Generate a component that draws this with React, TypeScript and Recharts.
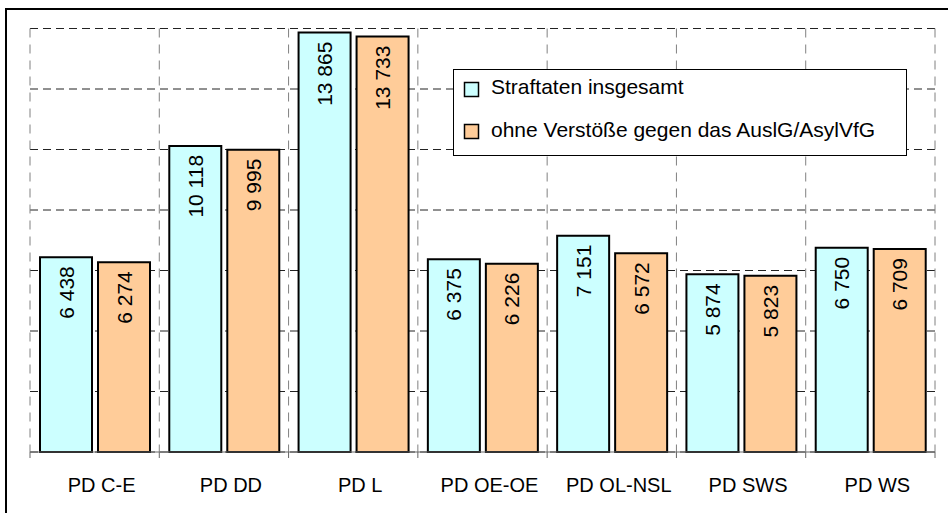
import React from 'react';
import { BarChart, Bar, XAxis, YAxis, CartesianGrid, Legend, LabelList } from 'recharts';

const categories = ['PD C-E', 'PD DD', 'PD L', 'PD OE-OE', 'PD OL-NSL', 'PD SWS', 'PD WS'];
const totalValues = [6438, 10118, 13865, 6375, 7151, 5874, 6750];
const withoutValues = [6274, 9995, 13733, 6226, 6572, 5823, 6709];
const seriesNames = ['Straftaten insgesamt', 'ohne Verstöße gegen das AuslG/AsylVfG'];
const yTicks = [0, 2000, 4000, 6000, 8000, 10000, 12000, 14000];
const Y_MAX = 14000;

const data = categories.map((name, i) => ({
  name,
  total: totalValues[i],
  without: withoutValues[i],
}));

const FONT = '"Liberation Sans", Arial, sans-serif';
const CHART_W = 940;
const CHART_H = 505;
const MARGIN = { top: 20.5, right: 13, left: 22, bottom: 21 };
const PLOT_W = CHART_W - MARGIN.left - MARGIN.right;
const PLOT_H = CHART_H - MARGIN.top - MARGIN.bottom - 40;
const BAND = PLOT_W / categories.length;

// 6438 -> "6 438"
const fmt = (v: number) => String(v).replace(/\B(?=(\d{3})+(?!\d))/g, ' ');

const ValueLabel = (props: any) => {
  const x = Number(props.x);
  const y = Number(props.y);
  const w = Number(props.width);
  return (
    <text
      transform={`translate(${x + w / 2},${y + 9}) rotate(-90)`}
      textAnchor="end"
      dominantBaseline="central"
      fontSize={21}
      fontFamily={FONT}
      fill="#000"
    >
      {fmt(props.value)}
    </text>
  );
};

// label plus small tick marks on the category boundaries
const CategoryTick = (props: any) => {
  const { x, y, payload, index } = props;
  return (
    <g>
      {index === 0 && (
        <line x1={x - BAND / 2} y1={y} x2={x - BAND / 2} y2={y + 6} stroke="#666" />
      )}
      <line x1={x + BAND / 2} y1={y} x2={x + BAND / 2} y2={y + 6} stroke="#666" />
      <text x={x + 7} y={y + 39.5} textAnchor="middle" fontSize={20} fontFamily={FONT} fill="#000">
        {payload.value}
      </text>
    </g>
  );
};

const colors = ['#CCFFFF', '#FFCC99'];

const LegendBox = () => (
  <svg width={454} height={87} style={{ display: 'block' }}>
    <rect x={0.5} y={0.5} width={453} height={86} fill="#fff" stroke="#000" />
    {seriesNames.map((n, i) => (
      <g key={n}>
        <rect x={11.5} y={13.5 + i * 42} width={14} height={14} fill={colors[i]} stroke="#000" strokeWidth={1.5} />
        <text x={38} y={25 + i * 42.5} fontSize={21} fontFamily={FONT} fill="#000">
          {n}
        </text>
      </g>
    ))}
  </svg>
);

export default function App() {
  return (
    <div
      style={{
        position: 'fixed',
        left: 0,
        top: 0,
        width: 948,
        height: 513,
        overflow: 'hidden',
        background: '#fff',
      }}
    >
      <div
        style={{
          position: 'absolute',
          left: 5,
          top: 8,
          width: 960,
          height: 520,
          borderLeft: '2px solid #000',
          borderTop: '2px solid #000',
          boxSizing: 'border-box',
        }}
      />
      <div style={{ position: 'absolute', left: 8, top: 8 }}>
        <BarChart
          width={CHART_W}
          height={CHART_H}
          data={data}
          margin={MARGIN}
          barCategoryGap={10}
          barGap={6}
        >
          <CartesianGrid
            vertical={false}
            stroke="#222"
            strokeDasharray="8 5"
            horizontalCoordinatesGenerator={(args: any) => {
              const top = args?.offset?.top ?? MARGIN.top;
              const h = args?.offset?.height ?? PLOT_H;
              return yTicks.map((t) => top + h * (1 - t / Y_MAX));
            }}
          />
          <CartesianGrid
            horizontal={false}
            stroke="#808080"
            strokeDasharray="9 7"
            verticalCoordinatesGenerator={(args: any) => {
              const left = args?.offset?.left ?? MARGIN.left;
              const w = args?.offset?.width ?? PLOT_W;
              return categories.map((_, i) => left + (i * w) / categories.length).concat(left + w);
            }}
          />
          <XAxis
            dataKey="name"
            height={40}
            interval={0}
            tickLine={false}
            tickSize={0}
            tickMargin={0}
            axisLine={{ stroke: '#666' }}
            tick={<CategoryTick />}
          />
          <YAxis
            width={0}
            domain={[0, Y_MAX]}
            ticks={yTicks}
            tick={false}
            tickLine={false}
            axisLine={false}
          />
          <Legend
            layout="horizontal"
            verticalAlign="middle"
            align="center"
            content={<LegendBox />}
            wrapperStyle={{ position: 'absolute', left: 445, top: 61, width: 454, height: 87 }}
          />
          <Bar dataKey="total" name={seriesNames[0]} fill={colors[0]} stroke="#000" strokeWidth={2} isAnimationActive={false}>
            <LabelList dataKey="total" content={<ValueLabel />} />
          </Bar>
          <Bar dataKey="without" name={seriesNames[1]} fill={colors[1]} stroke="#000" strokeWidth={2} isAnimationActive={false}>
            <LabelList dataKey="without" content={<ValueLabel />} />
          </Bar>
        </BarChart>
      </div>
    </div>
  );
}
